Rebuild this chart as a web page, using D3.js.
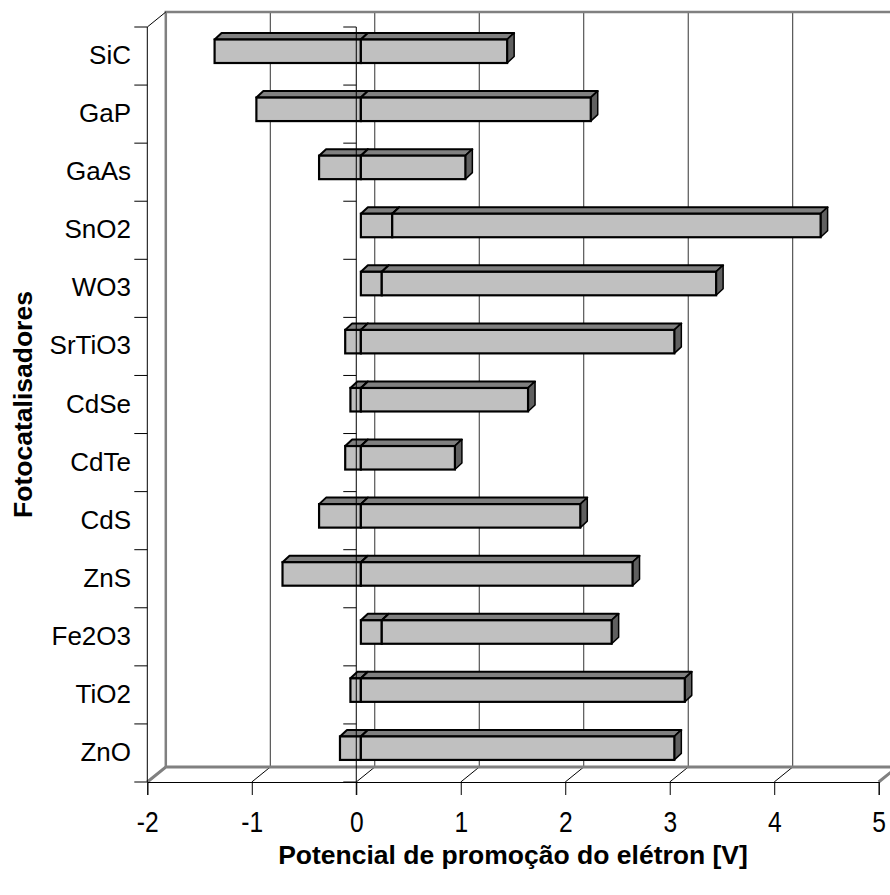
<!DOCTYPE html>
<html>
<head>
<meta charset="utf-8">
<script src="https://cdn.jsdelivr.net/npm/d3@7"></script>
<style>
    body { margin: 0; background: #fff; }
    text { font-family: 'Liberation Sans', Arial, sans-serif; fill: #000; }
</style>
</head>
<body>
<div id="chart"></div>
<script>
// band positions of the photocatalysts (V)
let categories = ['SiC', 'GaP', 'GaAs', 'SnO2', 'WO3', 'SrTiO3', 'CdSe', 'CdTe', 'CdS', 'ZnS', 'Fe2O3', 'TiO2', 'ZnO'];
let conduction = [-1.4, -1.0, -0.4, 0.3, 0.2, -0.15, -0.1, -0.15, -0.4, -0.75, 0.2, -0.1, -0.2];
let valence = [1.4, 2.2, 1.0, 4.1, 3.2, 3.0, 1.6, 0.9, 2.1, 2.6, 2.2, 3.1, 3.0];
let xTicks = [-2, -1, 0, 1, 2, 3, 4, 5];
let xTitle = 'Potencial de promoção do elétron [V]';
let yTitle = 'Fotocatalisadores';

class BandChart {

    constructor() {
        this.width = 890;
        this.height = 895;
        // 3d depth of the plot box and of the bars
        this.depth = {dx: 18.5, dy: -15};
        this.barDepth = {dx: 7, dy: -6.5};
        this.barShift = 4.6;

        this.svg = d3.select('#chart').append('svg')
            .attr('width', this.width)
            .attr('height', this.height);

        this.xScale = d3.scaleLinear()
            .domain([-2, 5])
            .range([147.3, 878.7]);
        this.yScale = d3.scaleBand()
            .domain(categories)
            .range([27, 782]);

        this.rows = categories.map((c, i) => ({name: c, cb: conduction[i], vb: valence[i]}));
        this.series = d3.stack()
            .keys(['cb', 'vb'])
            .offset(d3.stackOffsetDiverging)(this.rows);
    }

    drawWalls() {
        let x = this.xScale, dep = this.depth;
        let top = 27 + dep.dy, floorY = 782;
        let walls = this.svg.append('g');

        // gridlines on the back wall
        walls.selectAll('.grid').data(xTicks.slice(1, -1)).enter().append('line')
            .attr('x1', d => x(d) + dep.dx).attr('x2', d => x(d) + dep.dx)
            .attr('y1', top).attr('y2', floorY + dep.dy)
            .attr('stroke', '#333').attr('stroke-width', 1);

        // floor diagonals
        walls.selectAll('.diag').data(xTicks.slice(1, -1)).enter().append('line')
            .attr('x1', d => x(d)).attr('y1', floorY)
            .attr('x2', d => x(d) + dep.dx).attr('y2', floorY + dep.dy)
            .attr('stroke', '#000').attr('stroke-width', 1);

        // grey frame of the box
        let x0 = x(-2) + dep.dx, x5 = x(5);
        walls.append('path')
            .attr('d', 'M' + x0 + ',' + (floorY + dep.dy) + 'V' + top + 'H' + this.width)
            .attr('fill', 'none').attr('stroke', '#808080').attr('stroke-width', 2.5);
        walls.append('path')
            .attr('d', 'M' + x(-2) + ',' + floorY + 'L' + x0 + ',' + (floorY + dep.dy) + 'H' + this.width
                + 'M' + x5 + ',' + floorY + 'l' + dep.dx + ',' + dep.dy)
            .attr('fill', 'none').attr('stroke', '#808080').attr('stroke-width', 3);
    }

    drawBars() {
        let that = this;
        let x = this.xScale, y = this.yScale, b = this.barDepth;
        let h = 23.5;
        let bars = this.svg.append('g');

        let groups = bars.selectAll('g').data(this.rows).enter().append('g');
        groups.each(function(row, i) {
            let g = d3.select(this);
            that.series.forEach(s => {
                let d = s[i];
                let x0 = x(Math.min(d[0], d[1])) + that.barShift;
                let x1 = x(Math.max(d[0], d[1])) + that.barShift;
                let y0 = y(row.name) + 12.5;
                g.append('polygon')
                    .attr('points', [[x0, y0], [x0 + b.dx, y0 + b.dy], [x1 + b.dx, y0 + b.dy], [x1, y0]].join(' '))
                    .attr('fill', '#808080').attr('stroke', '#000').attr('stroke-width', 2)
                    .attr('stroke-linejoin', 'round');
                g.append('polygon')
                    .attr('points', [[x1, y0], [x1 + b.dx, y0 + b.dy], [x1 + b.dx, y0 + h + b.dy], [x1, y0 + h]].join(' '))
                    .attr('fill', '#606060').attr('stroke', '#000').attr('stroke-width', 1.5)
                    .attr('stroke-linejoin', 'round');
                g.append('rect')
                    .attr('x', x0).attr('y', y0)
                    .attr('width', x1 - x0).attr('height', h)
                    .attr('fill', '#c0c0c0').attr('stroke', '#000').attr('stroke-width', 2.2);
            });
        });
    }

    drawAxes() {
        let x = this.xScale, y = this.yScale, dep = this.depth;
        let axes = this.svg.append('g');
        let bounds = categories.map(c => y(c)).concat([y.range()[1]]);

        // category axis on the left
        axes.append('line')
            .attr('x1', x(-2)).attr('x2', x(-2))
            .attr('y1', 27).attr('y2', 782)
            .attr('stroke', '#000');
        axes.append('line')
            .attr('x1', x(-2)).attr('y1', 27)
            .attr('x2', x(-2) + dep.dx).attr('y2', 27 + dep.dy)
            .attr('stroke', '#000');
        axes.selectAll('.ltick').data(bounds).enter().append('line')
            .attr('x1', x(-2) - 13).attr('x2', x(-2))
            .attr('y1', d => d).attr('y2', d => d)
            .attr('stroke', '#000');

        // line where the category axis crosses zero
        axes.append('line')
            .attr('x1', x(0)).attr('x2', x(0))
            .attr('y1', 27).attr('y2', 795)
            .attr('stroke', '#000');
        axes.selectAll('.ztick').data(bounds).enter().append('line')
            .attr('x1', x(0) - 13).attr('x2', x(0))
            .attr('y1', d => d).attr('y2', d => d)
            .attr('stroke', '#000');

        axes.selectAll('.catlabel').data(categories).enter().append('text')
            .attr('x', 131)
            .attr('y', d => y(d) + y.bandwidth() / 2 + 8)
            .attr('text-anchor', 'end')
            .attr('font-size', 26)
            .text(d => d);

        // value axis at the front
        let xAxis = d3.axisBottom(x)
            .tickValues(xTicks)
            .tickSize(13)
            .tickPadding(16)
            .tickFormat(d => String(d));
        let gx = axes.append('g')
            .attr('transform', 'translate(0,782)')
            .call(xAxis);
        gx.select('.domain').attr('stroke', '#000');
        gx.selectAll('text')
            .attr('font-size', 30)
            .attr('font-family', "'Liberation Sans', Arial, sans-serif")
            .attr('fill', '#000')
            .attr('transform', 'scale(0.82,1)');

        axes.append('text')
            .attr('x', (x.range()[0] + x.range()[1]) / 2)
            .attr('y', 864)
            .attr('text-anchor', 'middle')
            .attr('font-size', 26.5)
            .attr('font-weight', 'bold')
            .text(xTitle);

        axes.append('text')
            .attr('transform', 'translate(32,' + ((27 + 782) / 2) + ') rotate(-90)')
            .attr('text-anchor', 'middle')
            .attr('font-size', 26.5)
            .attr('font-weight', 'bold')
            .text(yTitle);
    }
}

let chart = new BandChart();
chart.drawWalls();
chart.drawBars();
chart.drawAxes();
</script>
</body>
</html>
